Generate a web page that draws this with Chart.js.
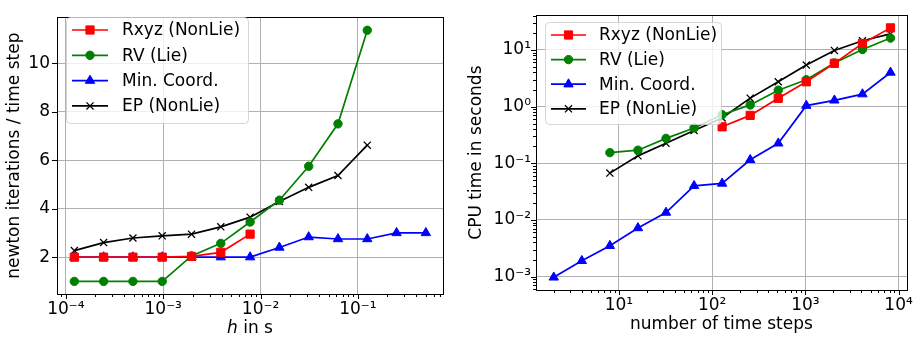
<!DOCTYPE html>
<html>
<head>
<meta charset="utf-8">
<script src="https://cdn.jsdelivr.net/npm/chart.js@4.4.0/dist/chart.umd.min.js"></script>
<style>
  html, body { margin: 0; padding: 0; background: #fff; }
  .wrap { display: flex; width: 918px; height: 340px; }
  .box { position: relative; height: 340px; }
</style>
</head>
<body>
<div class="wrap">
  <div class="box" style="width:460px"><canvas id="left"></canvas></div>
  <div class="box" style="width:458px"><canvas id="right"></canvas></div>
</div>
<script>
// series names
const seriesNames = ['Rxyz (NonLie)', 'RV (Lie)', 'Min. Coord.', 'EP (NonLie)'];
const seriesColors = ['#ff0000', '#008000', '#0000ff', '#000000'];

// left plot: step size h (s)
const hValues = [0.0001220703125, 0.000244140625, 0.00048828125, 0.0009765625, 0.001953125,
  0.00390625, 0.0078125, 0.015625, 0.03125, 0.0625, 0.125, 0.25, 0.5];
// newton iterations per time step
const itersRxyz = [2, 2, 2, 2, 2.03, 2.2, 2.95];
const itersRV = [1, 1, 1, 1, 2.05, 2.57, 3.45, 4.35, 5.75, 7.5, 11.36];
const itersMin = [2, 2, 2, 2, 2, 2, 2, 2.4, 2.83, 2.75, 2.75, 3.0, 3.0];
const itersEP = [2.27, 2.6, 2.79, 2.88, 2.95, 3.25, 3.65, 4.3, 4.88, 5.37, 6.62];

// right plot: number of time steps
const stepValues = [2, 4, 8, 16, 32, 64, 128, 256, 512, 1024, 2048, 4096, 8192];
// CPU time in seconds
const cpuRxyz = [0.44, 0.70, 1.40, 2.74, 5.8, 13, 24.5];            // 128 .. 8192
const cpuRV = [0.154, 0.17, 0.275, 0.42, 0.72, 1.07, 1.95, 2.97, 5.9, 10.2, 16.2]; // 8 .. 8192
const cpuMin = [0.00097, 0.0019, 0.0035, 0.0072, 0.0135, 0.040, 0.044, 0.115, 0.225, 1.04, 1.29, 1.66, 4.0];
const cpuEP = [0.067, 0.135, 0.225, 0.38, 0.63, 1.41, 2.74, 5.4, 9.8, 14.5, 19.2];   // 8 .. 8192

// tick labels
const leftXMajor = [1e-4, 1e-3, 1e-2, 1e-1];
const leftXLabels = ['10⁻⁴', '10⁻³', '10⁻²', '10⁻¹'];
const leftYTicks = [2, 4, 6, 8, 10];
const rightXMajor = [10, 100, 1000, 10000];
const rightXLabels = ['10¹', '10²', '10³', '10⁴'];
const rightYMajor = [1e-3, 1e-2, 1e-1, 1, 10];
const rightYLabels = ['10⁻³', '10⁻²', '10⁻¹', '10⁰', '10¹'];

Chart.defaults.font.family = "'DejaVu Sans', sans-serif";
Chart.defaults.font.size = 17;
Chart.defaults.color = '#000';

const FONT = "17px 'DejaVu Sans', sans-serif";
const GRID = '#b0b0b0';

// markers
const markers = [
  { pointStyle: 'rect', pointRadius: 5.8 },
  { pointStyle: 'circle', pointRadius: 4.2 },
  { pointStyle: 'triangle', pointRadius: 5.4 },
  { pointStyle: 'crossRot', pointRadius: 5.0 },
];

function pairs(xs, ys) {
  return ys.map((y, i) => ({ x: xs[i], y: y }));
}

function makeDataset(i, data) {
  return {
    label: seriesNames[i],
    data: data,
    borderColor: seriesColors[i],
    backgroundColor: seriesColors[i],
    borderWidth: 1.7,
    pointStyle: markers[i].pointStyle,
    pointRadius: markers[i].pointRadius,
    pointBorderWidth: i === 3 ? 1.3 : 1,
    pointHoverRadius: markers[i].pointRadius,
    tension: 0,
    fill: false,
  };
}

// all 1..9 x 10^e ticks inside the range, decades are major
function logTicks(min, max) {
  const out = [];
  for (let e = Math.floor(Math.log10(min)); e <= Math.ceil(Math.log10(max)); e++) {
    for (let m = 1; m < 10; m++) {
      const v = m * Math.pow(10, e);
      if (v >= min * 0.9999 && v <= max * 1.0001) out.push({ value: v, major: m === 1 });
    }
  }
  return out;
}

function labelFor(v, majors, labels) {
  for (let i = 0; i < majors.length; i++) {
    if (Math.abs(Math.log10(v) - Math.log10(majors[i])) < 1e-6) return labels[i];
  }
  return '';
}

function logAxis(min, max, majors, labels, pad, width, height, title) {
  return {
    type: 'logarithmic',
    min: min,
    max: max,
    afterBuildTicks: (s) => { s.ticks = logTicks(min, max); },
    afterFit: (s) => {
      if (width) s.width = width;
      if (height) s.height = height;
    },
    ticks: {
      autoSkip: false,
      maxRotation: 0,
      padding: pad,
      font: { size: 17 },
      callback: (v) => labelFor(v, majors, labels),
    },
    grid: {
      color: (c) => (c.tick && c.tick.major ? GRID : 'rgba(0,0,0,0)'),
      lineWidth: 1,
      drawTicks: false,
    },
    border: { display: false },
    title: title,
  };
}

// frame around the axes and outward tick marks
const framePlugin = {
  id: 'frame',
  afterDraw(chart) {
    const ctx = chart.ctx, a = chart.chartArea;
    ctx.save();
    ctx.strokeStyle = '#000';
    ctx.lineWidth = 1;
    ctx.beginPath();
    ['x', 'y'].forEach((id) => {
      const s = chart.scales[id];
      s.ticks.forEach((t) => {
        const p = Math.round(s.getPixelForValue(t.value)) + 0.5;
        const len = t.major === false ? 3 : 5;
        if (id === 'x') {
          ctx.moveTo(p, a.bottom); ctx.lineTo(p, a.bottom + len);
        } else {
          ctx.moveTo(a.left, p); ctx.lineTo(a.left - len, p);
        }
      });
    });
    ctx.stroke();
    ctx.strokeRect(Math.round(a.left) + 0.5, Math.round(a.top) + 0.5,
      Math.round(a.right - a.left), Math.round(a.bottom - a.top));
    ctx.restore();
  },
};

function roundRect(ctx, x, y, w, h, r) {
  ctx.beginPath();
  ctx.moveTo(x + r, y);
  ctx.lineTo(x + w - r, y);
  ctx.arcTo(x + w, y, x + w, y + r, r);
  ctx.lineTo(x + w, y + h - r);
  ctx.arcTo(x + w, y + h, x + w - r, y + h, r);
  ctx.lineTo(x + r, y + h);
  ctx.arcTo(x, y + h, x, y + h - r, r);
  ctx.lineTo(x, y + r);
  ctx.arcTo(x, y, x + r, y, r);
  ctx.closePath();
}

// matplotlib-like legend inside the axes
function legendPlugin(cfg) {
  return {
    id: 'mplLegend',
    afterDraw(chart) {
      const ctx = chart.ctx;
      ctx.save();
      roundRect(ctx, cfg.x + 0.5, cfg.y + 0.5, cfg.w, cfg.h, 4);
      ctx.fillStyle = 'rgba(255,255,255,0.8)';
      ctx.fill();
      ctx.strokeStyle = 'rgba(204,204,204,0.8)';
      ctx.lineWidth = 1;
      ctx.stroke();
      chart.data.datasets.forEach((ds, i) => {
        const y = cfg.rowY + i * cfg.rowGap;
        ctx.strokeStyle = ds.borderColor;
        ctx.fillStyle = ds.backgroundColor;
        ctx.lineWidth = ds.borderWidth;
        ctx.beginPath();
        ctx.moveTo(cfg.lineX0, y);
        ctx.lineTo(cfg.lineX1, y);
        ctx.stroke();
        ctx.lineWidth = ds.pointBorderWidth;
        Chart.helpers.drawPoint(ctx, {
          pointStyle: ds.pointStyle, radius: ds.pointRadius, borderWidth: ds.pointBorderWidth, rotation: 0,
        }, (cfg.lineX0 + cfg.lineX1) / 2, y);
        ctx.fillStyle = '#000';
        ctx.font = FONT;
        ctx.textBaseline = 'middle';
        ctx.textAlign = 'left';
        ctx.fillText(ds.label, cfg.textX, y + 1);
      });
      ctx.restore();
    },
  };
}

// x title of the left plot, with italic h
const hTitlePlugin = {
  id: 'hTitle',
  afterDraw(chart) {
    const ctx = chart.ctx, a = chart.chartArea;
    ctx.save();
    ctx.fillStyle = '#000';
    ctx.textBaseline = 'middle';
    ctx.textAlign = 'left';
    const italic = "italic 17px 'DejaVu Sans', sans-serif";
    ctx.font = italic;
    const w1 = ctx.measureText('h').width;
    ctx.font = FONT;
    const w2 = ctx.measureText(' in s').width;
    const x0 = (a.left + a.right) / 2 - (w1 + w2) / 2;
    const y = 329;
    ctx.font = italic;
    ctx.fillText('h', x0, y);
    ctx.font = FONT;
    ctx.fillText(' in s', x0 + w1, y);
    ctx.restore();
  },
};

// left chart
new Chart(document.getElementById('left'), {
  type: 'line',
  data: {
    datasets: [
      makeDataset(0, pairs(hValues, itersRxyz)),
      makeDataset(1, pairs(hValues, itersRV)),
      makeDataset(2, pairs(hValues, itersMin)),
      makeDataset(3, pairs(hValues, itersEP)),
    ],
  },
  options: {
    responsive: true,
    maintainAspectRatio: false,
    animation: false,
    events: [],
    layout: { padding: { top: 7, right: 17, left: 0, bottom: 0 } },
    plugins: { legend: { display: false }, tooltip: { enabled: false } },
    scales: {
      x: logAxis(8.1e-5, 0.75, leftXMajor, leftXLabels, 5, null, 46, { display: false }),
      y: {
        type: 'linear',
        min: 0.48,
        max: 11.9,
        afterBuildTicks: (s) => { s.ticks = leftYTicks.map((v) => ({ value: v })); },
        afterFit: (s) => { s.width = 57; },
        ticks: { padding: 7, font: { size: 17 } },
        grid: { color: GRID, lineWidth: 1, drawTicks: false },
        border: { display: false },
        title: { display: true, text: 'newton iterations / time step', padding: { top: 4, bottom: 0 }, font: { size: 17 } },
      },
    },
  },
  plugins: [framePlugin, hTitlePlugin, legendPlugin({
    x: 66, y: 17, w: 182, h: 106, rowY: 30, rowGap: 25.3, lineX0: 72, lineX1: 108, textX: 122,
  })],
});

// right chart
new Chart(document.getElementById('right'), {
  type: 'line',
  data: {
    datasets: [
      makeDataset(0, pairs(stepValues.slice(6), cpuRxyz)),
      makeDataset(1, pairs(stepValues.slice(2), cpuRV)),
      makeDataset(2, pairs(stepValues, cpuMin)),
      makeDataset(3, pairs(stepValues.slice(2), cpuEP)),
    ],
  },
  options: {
    responsive: true,
    maintainAspectRatio: false,
    animation: false,
    events: [],
    layout: { padding: { top: 13, right: 9, left: 0, bottom: 0 } },
    plugins: { legend: { display: false }, tooltip: { enabled: false } },
    scales: {
      x: logAxis(1.29, 12250, rightXMajor, rightXLabels, 5, null, 50,
        { display: true, text: 'number of time steps', padding: { top: 0, bottom: 5 }, font: { size: 17 } }),
      y: logAxis(5.8e-4, 41, rightYMajor, rightYLabels, 5, 76, null,
        { display: true, text: 'CPU time in seconds', padding: { top: 6, bottom: 0 }, font: { size: 17 } }),
    },
  },
  plugins: [framePlugin, legendPlugin({
    x: 85, y: 22, w: 176, h: 102, rowY: 35, rowGap: 24.6, lineX0: 91, lineX1: 126, textX: 139,
  })],
});
</script>
</body>
</html>
